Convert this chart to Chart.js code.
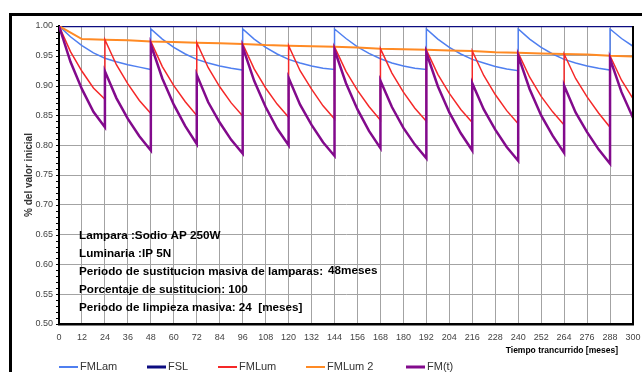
<!DOCTYPE html>
<html>
<head>
<meta charset="utf-8">
<script src="https://cdn.jsdelivr.net/npm/chart.js@4.4.1/dist/chart.umd.min.js"></script>
<style>
  html, body { margin: 0; padding: 0; background: #fff; }
  #wrap { width: 642px; height: 372px; }
</style>
</head>
<body>
<div id="wrap"><canvas id="line-chart" width="642" height="372"></canvas></div>
<script>
// months on the x axis (repeated month = vertical jump)
const xTicks = [0,12,24,36,48,60,72,84,96,108,120,132,144,156,168,180,192,204,216,228,240,252,264,276,288,300];
const yTicks = [0.50,0.55,0.60,0.65,0.70,0.75,0.80,0.85,0.90,0.95,1.00];

const fslMonths = [0, 300];
const fslValues = [1.000, 1.000];

const fmlamMonths = [
  0,6,12,18,24,30,36,42,48,
  48,54,60,66,72,78,84,90,96,
  96,102,108,114,120,126,132,138,144,
  144,150,156,162,168,174,180,186,192,
  192,198,204,210,216,222,228,234,240,
  240,246,252,258,264,270,276,282,288,
  288,294,300
];
const fmlamValues = [
  1.000,0.982,0.967,0.955,0.946,0.940,0.935,0.931,0.927,
  0.995,0.978,0.964,0.953,0.944,0.938,0.933,0.929,0.926,
  0.995,0.978,0.964,0.953,0.944,0.938,0.933,0.929,0.927,
  0.995,0.979,0.965,0.954,0.945,0.938,0.933,0.929,0.927,
  0.995,0.978,0.964,0.953,0.944,0.938,0.932,0.928,0.925,
  0.995,0.978,0.964,0.953,0.944,0.938,0.933,0.929,0.926,
  0.995,0.979,0.966
];

const fmlum2Months = xTicks;
const fmlum2Values = [1.000,0.978,0.977,0.976,0.974,0.973,0.972,0.971,0.970,0.968,0.967,0.966,0.965,
                      0.964,0.962,0.961,0.960,0.959,0.958,0.956,0.955,0.954,0.953,0.952,0.950,0.949];

const fmlumMonths = [
  0,6,12,18,24,
  24,30,36,42,48,
  48,54,60,66,72,
  72,78,84,90,96,
  96,102,108,114,120,
  120,126,132,138,144,
  144,150,156,162,168,
  168,174,180,186,192,
  192,198,204,210,216,
  216,222,228,234,240,
  240,246,252,258,264,
  264,270,276,282,288,
  288,294,300
];
const fmlumValues = [
  1.000,0.957,0.924,0.896,0.877,
  0.977,0.935,0.903,0.875,0.853,
  0.974,0.932,0.900,0.873,0.850,
  0.972,0.930,0.898,0.871,0.849,
  0.970,0.928,0.896,0.869,0.847,
  0.967,0.925,0.894,0.866,0.844,
  0.965,0.924,0.892,0.865,0.842,
  0.962,0.921,0.889,0.862,0.840,
  0.960,0.919,0.887,0.860,0.838,
  0.958,0.917,0.885,0.858,0.836,
  0.955,0.914,0.882,0.856,0.834,
  0.953,0.912,0.881,0.854,0.830,
  0.950,0.909,0.878
];

const fmMonths = fmlumMonths;
const fmValues = [
  1.000,0.940,0.894,0.856,0.830,
  0.924,0.879,0.844,0.815,0.791,
  0.969,0.912,0.868,0.832,0.802,
  0.918,0.872,0.838,0.809,0.786,
  0.965,0.908,0.864,0.828,0.800,
  0.913,0.868,0.834,0.805,0.782,
  0.960,0.904,0.860,0.824,0.795,
  0.908,0.864,0.829,0.801,0.778,
  0.955,0.899,0.855,0.820,0.791,
  0.904,0.860,0.826,0.797,0.774,
  0.950,0.894,0.850,0.816,0.787,
  0.900,0.855,0.822,0.793,0.769,
  0.945,0.889,0.846
];

const infoLines = [
  "Lampara :Sodio AP 250W",
  "Luminaria :IP 5N",
  "Periodo de sustitucion masiva de lamparas:",
  "Porcentaje de sustitucion: 100",
  "Periodo de limpieza masiva: 24  [meses]"
];
const infoExtra = "48meses";
const xTitle = "Tiempo trancurrido [meses]";

function pts(xs, ys) {
  return xs.map((x, i) => ({ x: x, y: ys[i] }));
}

const FONT = "'Liberation Sans', Arial, sans-serif";

const chartDecor = {
  id: 'chartDecor',
  beforeDraw(chart) {
    const ctx = chart.ctx;
    ctx.save();
    ctx.fillStyle = '#fff';
    ctx.fillRect(0, 0, chart.width, chart.height);
    // outer frame
    ctx.strokeStyle = '#000';
    ctx.lineWidth = 3;
    ctx.beginPath();
    ctx.moveTo(10.5, chart.height);
    ctx.lineTo(10.5, 14.5);
    ctx.lineTo(chart.width, 14.5);
    ctx.stroke();
    ctx.restore();
  },
  afterDraw(chart) {
    const ctx = chart.ctx;
    const a = chart.chartArea;
    const y = chart.scales.y;
    ctx.save();
    // right edge of plot
    ctx.strokeStyle = '#000';
    ctx.lineWidth = 2;
    ctx.beginPath();
    ctx.moveTo(a.right, a.top);
    ctx.lineTo(a.right, a.bottom);
    ctx.stroke();
    // minor ticks on the left axis
    ctx.lineWidth = 1;
    ctx.beginPath();
    for (let k = 0; k <= 50; k++) {
      const py = Math.round(y.getPixelForValue(0.5 + k * 0.01)) + 0.5;
      ctx.moveTo(a.left - 3, py);
      ctx.lineTo(a.left, py);
    }
    ctx.stroke();

    // info block
    ctx.fillStyle = '#000';
    ctx.font = 'bold 11.7px ' + FONT;
    ctx.textAlign = 'left';
    ctx.textBaseline = 'middle';
    const lineY = [236, 254, 272, 290, 308];
    infoLines.forEach((t, i) => ctx.fillText(t, 79, lineY[i]));
    ctx.fillText(infoExtra, 328, 271);

    // x axis title
    ctx.font = 'bold 8.5px ' + FONT;
    ctx.textAlign = 'right';
    ctx.fillText(xTitle, 618, 351);

    // legend
    const legendX = [59, 147, 218, 306, 406];
    const ly = 367;
    ctx.font = '11px ' + FONT;
    ctx.textAlign = 'left';
    chart.data.datasets.forEach((ds, i) => {
      ctx.strokeStyle = ds.borderColor;
      ctx.lineWidth = ds.legendWidth;
      ctx.beginPath();
      ctx.moveTo(legendX[i], ly);
      ctx.lineTo(legendX[i] + 19, ly);
      ctx.stroke();
      ctx.fillStyle = '#333';
      ctx.fillText(ds.label, legendX[i] + 21, ly);
    });
    ctx.restore();
  }
};

new Chart(document.getElementById("line-chart"), {
  type: 'line',
  data: {
    datasets: [{
      label: "FMLam",
      data: pts(fmlamMonths, fmlamValues),
      borderColor: "#4f7ff0",
      borderWidth: 1.5,
      legendWidth: 2,
      order: 3
    }, {
      label: "FSL",
      data: pts(fslMonths, fslValues),
      borderColor: "#0c0c80",
      borderWidth: 2.5,
      legendWidth: 3,
      order: 4
    }, {
      label: "FMLum",
      data: pts(fmlumMonths, fmlumValues),
      borderColor: "#f52828",
      borderWidth: 1.5,
      legendWidth: 2,
      order: 1
    }, {
      label: "FMLum 2",
      data: pts(fmlum2Months, fmlum2Values),
      borderColor: "#ff8a24",
      borderWidth: 2,
      legendWidth: 2,
      order: 2
    }, {
      label: "FM(t)",
      data: pts(fmMonths, fmValues),
      borderColor: "#820a8c",
      borderWidth: 2.5,
      legendWidth: 3,
      order: 0
    }]
  },
  options: {
    responsive: false,
    animation: false,
    elements: { point: { radius: 0 }, line: { tension: 0, fill: false } },
    layout: { padding: { top: 26, right: 9, left: 0, bottom: 0 } },
    plugins: { legend: { display: false }, tooltip: { enabled: false } },
    scales: {
      x: {
        type: 'linear',
        min: 0, max: 300,
        afterBuildTicks(s) { s.ticks = xTicks.map(v => ({ value: v })); },
        afterFit(s) { s.height = 48; s.paddingLeft = 0; s.paddingRight = 0; },
        ticks: { autoSkip: false, maxRotation: 0, padding: 8, color: '#444', font: { family: FONT, size: 9 } },
        grid: { color: '#a3a3a3', lineWidth: 1, drawTicks: false },
        border: { color: '#000', width: 2.5 }
      },
      y: {
        min: 0.5, max: 1.0,
        afterBuildTicks(s) { s.ticks = yTicks.map(v => ({ value: v })); },
        afterFit(s) { s.width = 59; s.paddingTop = 0; s.paddingBottom = 0; },
        ticks: { padding: 6, color: '#444', font: { family: FONT, size: 9 },
                 callback: v => v.toFixed(2) },
        grid: { color: '#a3a3a3', lineWidth: 1, drawTicks: false },
        border: { color: '#000', width: 2 },
        title: { display: true, text: '% del valor inicial', color: '#333',
                 font: { family: FONT, size: 10, weight: 'bold' }, padding: { top: 23, bottom: 0 } }
      }
    }
  },
  plugins: [chartDecor]
});
</script>
</body>
</html>
